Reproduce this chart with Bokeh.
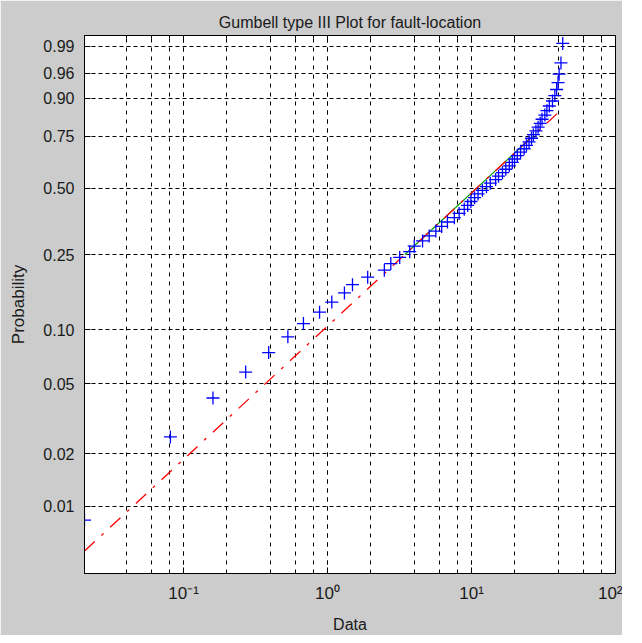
import numpy as np
from bokeh.plotting import figure
from bokeh.models import Range1d, FixedTicker, LogAxis, LinearAxis, LogTicker, CustomJSTickFormatter
from bokeh.embed import file_html
from bokeh.resources import INLINE

# ---- data (sorted fault-location sample) ----
fault_location = [
    0.0205, 0.081, 0.16, 0.27, 0.39, 0.53, 0.68, 0.88, 1.07, 1.31,
    1.49, 1.90, 2.48, 2.75, 3.17, 3.72, 4.0, 4.57, 5.08, 5.65,
    6.2, 6.8, 7.6, 8.2, 8.9, 9.4, 9.9, 10.5, 11.1, 11.9,
    12.7, 13.5, 14.7, 15.4, 16.4, 17.3, 18.3, 19.2, 19.9, 20.8,
    21.9, 23.2, 24.1, 25.1, 26.1, 26.9, 28.0, 29.0, 30.0, 30.9,
    32.3, 33.4, 34.7, 36.5, 37.9, 39.0, 39.9, 40.6, 41.8, 43.0,
]
prob_ticks = [0.01, 0.02, 0.05, 0.10, 0.25, 0.50, 0.75, 0.90, 0.96, 0.99]
prob_labels = ["0.01", "0.02", "0.05", "0.10", "0.25", "0.50", "0.75", "0.90", "0.96", "0.99"]
x_limits = [0.0205, 100]
p_limits = [0.0041, 0.9951]
quartile_p = [0.25, 0.75]


def wscale(p):
    p = np.asarray(p, dtype=float)
    return np.log(-np.log(1.0 - p))


x = np.sort(np.array(fault_location))
n = len(x)
pp = (np.arange(1, n + 1) - 0.5) / n          # plotting positions
yw = wscale(pp)

# reference line through the 1st and 3rd quartiles of the data
q = np.interp(quartile_p, pp, x)
wq = wscale(quartile_p)
k = (wq[1] - wq[0]) / (np.log(q[1]) - np.log(q[0]))
xl = np.array([x.min(), x.max()])
wl = wq[0] + k * (np.log(xl) - np.log(q[0]))

FONT = "Liberation Sans"

wl_lim = wscale(p_limits)
p = figure(width=622, height=635, x_axis_type="log",
           x_range=Range1d(x_limits[0], x_limits[1]),
           y_range=Range1d(wl_lim[0], wl_lim[1]),
           output_backend="svg", toolbar_location=None,
           min_border_left=84, min_border_right=7, min_border_top=35, min_border_bottom=60,
           background_fill_color="white", border_fill_color="#cccccc",
           outline_line_color="black", outline_line_width=1)

p.title.text = "Gumbell type III Plot for fault-location"
p.title.align = "center"
p.title.text_font = FONT
p.title.text_font_size = "16px"
p.title.text_font_style = "normal"
p.title.text_color = "#1a1a1a"

yt = FixedTicker(ticks=list(wscale(prob_ticks)))
yfmt = CustomJSTickFormatter(args=dict(ws=list(wscale(prob_ticks)), labs=prob_labels), code="""
let best = 0, bd = 1e9;
for (let i = 0; i < ws.length; i++) { const d = Math.abs(ws[i] - tick); if (d < bd) { bd = d; best = i; } }
return labs[best];
""")
xfmt = CustomJSTickFormatter(code="""
const e = Math.round(Math.log10(tick));
const sup = {"-2": "\u207b\u00b2", "-1": "\u207b\u00b9", "0": "\u2070", "1": "\u00b9", "2": "\u00b2"};
return "10" + sup[String(e)];
""")
blank = CustomJSTickFormatter(code="return '';")

ya = p.yaxis[0]
ya.ticker = yt
ya.formatter = yfmt
p.ygrid[0].ticker = yt
xa = p.xaxis[0]
xa.ticker = LogTicker()
xa.formatter = xfmt

for ax in (xa, ya):
    ax.major_tick_in = 6
    ax.major_tick_out = 0
    ax.minor_tick_in = 3
    ax.minor_tick_out = 0
    ax.axis_line_color = "black"
    ax.major_tick_line_color = "black"
    ax.minor_tick_line_color = "black"
    ax.major_label_text_font = FONT
    ax.major_label_text_font_size = "16px"
    ax.major_label_text_color = "#1a1a1a"
    ax.major_label_standoff = 10
    ax.axis_label_text_font_style = "normal"
    ax.axis_label_text_color = "#1a1a1a"

xa.major_label_text_font_size = "17px"
xa.axis_label = "Data"
xa.axis_label_text_font = FONT
xa.axis_label_text_font_size = "16px"
xa.axis_label_standoff = 10
ya.axis_label = "Probability"
ya.axis_label_text_font = FONT
ya.axis_label_text_font_size = "17px"
ya.axis_label_standoff = 12

top = LogAxis(ticker=LogTicker(), formatter=blank, major_tick_in=6, major_tick_out=0,
              minor_tick_in=3, minor_tick_out=0, major_label_standoff=0)
right = LinearAxis(ticker=yt, formatter=blank, major_tick_in=6, major_tick_out=0,
                   minor_tick_in=0, minor_tick_out=0, major_label_standoff=0)
p.add_layout(top, "above")
p.add_layout(right, "right")

p.xgrid.grid_line_color = "black"
p.xgrid.grid_line_dash = "4 5"
p.xgrid.minor_grid_line_color = "black"
p.xgrid.minor_grid_line_dash = "4 5"
p.ygrid.grid_line_color = "black"
p.ygrid.grid_line_dash = "4 3"

# quartile reference segment (green) and extended fit (red dash-dot)
p.line(q, wq, line_color="#00a000", line_width=1.2)
p.line(xl, wl, line_color="red", line_width=1.3, line_dash="14 9 3 9")
p.scatter(x, yw, marker="cross", size=13, line_color="blue", line_width=1.3)

open("out.html", "w").write(file_html(p, INLINE))
